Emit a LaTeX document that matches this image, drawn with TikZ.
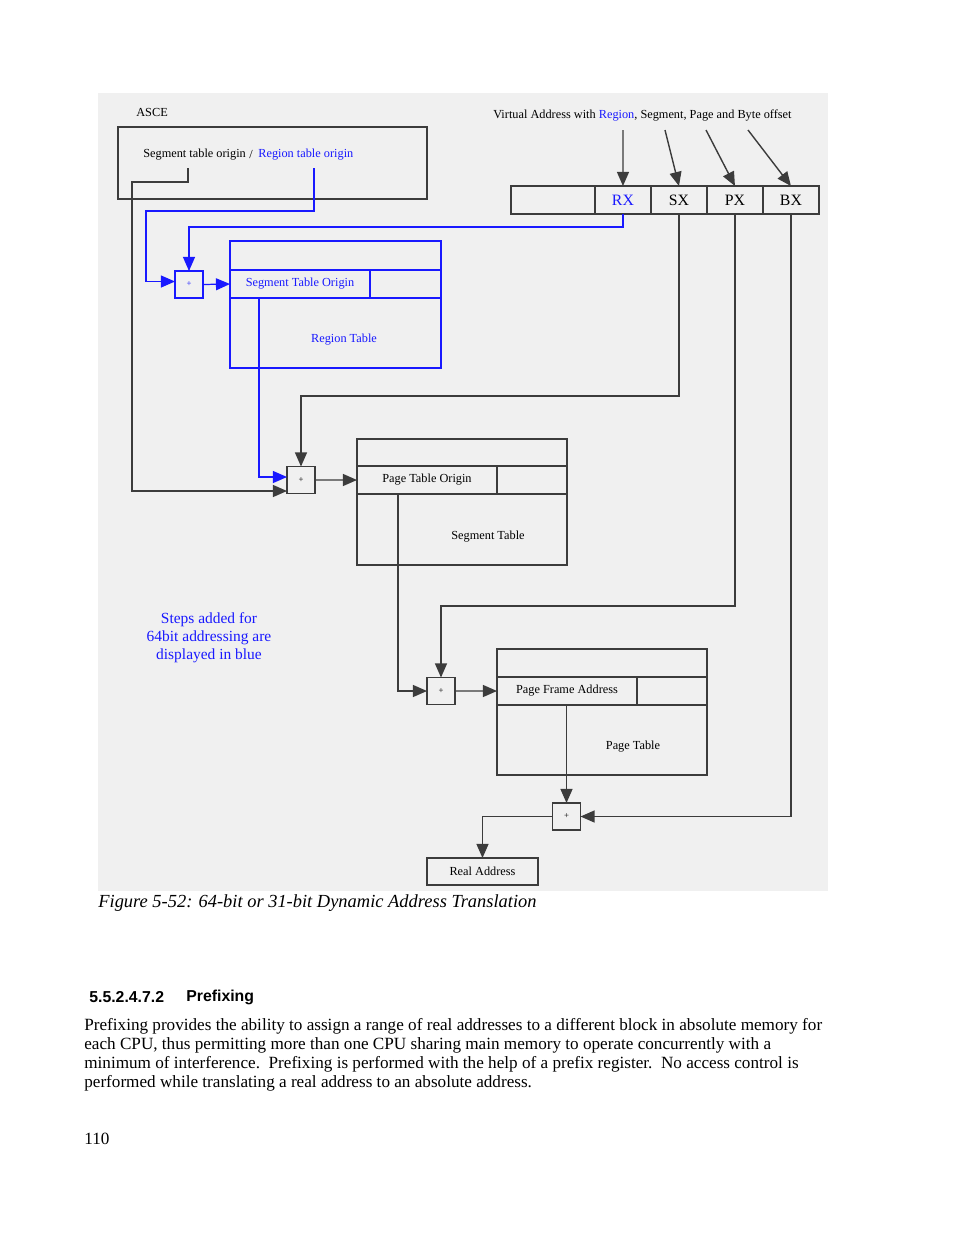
\documentclass[tikz,border=0pt]{standalone}
\usepackage{fontspec}
\setmainfont{Liberation Serif}
\setsansfont{Liberation Sans}
\usetikzlibrary{arrows.meta,positioning}

\definecolor{pagegray}{RGB}{240,240,240}
\definecolor{dkline}{RGB}{60,60,60}
\definecolor{stepblue}{RGB}{25,25,255}

\newcommand{\smallfont}{\fontsize{7}{8}\selectfont}
\newcommand{\bodyfont}{\fontsize{9.76}{11}\selectfont}

\tikzset{
  ln/.style={draw=dkline, line width=0.8pt},
  bln/.style={draw=stepblue, line width=0.7pt},
  tip/.style={-{Triangle[length=8pt,width=6.8pt]}},
  boxline/.style={draw=dkline, line width=0.8pt, inner sep=0pt, outer sep=0pt},
  field/.style={boxline, minimum height=0.56cm, font=\smallfont},
  regfield/.style={field, minimum width=1.12cm, font=\fontsize{9}{10}\selectfont},
  plusbox/.style={boxline, minimum width=0.56cm, minimum height=0.54cm, font=\fontsize{5}{5}\selectfont},
  tablebox/.style={boxline, anchor=north west, minimum width=4.2cm, minimum height=2.52cm},
  bluebox/.style={draw=stepblue, text=stepblue, line width=0.7pt},
  lbl/.style={font=\smallfont, inner sep=0pt},
  bodyline/.style={anchor=west, inner sep=0pt, font=\bodyfont},
}

\begin{document}
\begin{tikzpicture}[x=0.02cm, y=-0.02cm]
  \useasboundingbox (0,0) rectangle (954,1235);
  \fill[white] (0,0) rectangle (954,1235);
  \fill[pagegray] (98,93) rectangle (828,891);

  % ASCE
  \node[lbl, anchor=west] (asce) at (136,112) {ASCE};
  \node[boxline, anchor=north west, minimum width=6.18cm, minimum height=1.44cm] (ascebox) at (118,127) {};
  \node[lbl, anchor=west] (sto) at (143,154.5) {Segment table origin};
  \node[lbl, anchor=west] (slash) at (249,154.5) {/};
  \node[lbl, anchor=west, text=stepblue] (rto) at (258,154.5) {Region table origin};
  \coordinate (stoout) at (188,168);
  \coordinate (rtoout) at (314,168);

  % virtual address register
  \node[lbl, anchor=west] (valbl) at (493,115.5) {Virtual Address with \textcolor{stepblue}{Region}, Segment, Page and Byte offset};
  \node[field, anchor=north west, minimum width=1.68cm] (va0) at (511,186) {};
  \node[regfield, right=0pt of va0, text=stepblue] (rx) {RX};
  \node[regfield, right=0pt of rx] (sx) {SX};
  \node[regfield, right=0pt of sx] (px) {PX};
  \node[regfield, right=0pt of px] (bx) {BX};

  % adders
  \node[plusbox, bluebox] (p1) at (189,284.5) {+};
  \node[plusbox] (p2) at (301,480) {+};
  \node[plusbox] (p3) at (441,691) {+};
  \node[plusbox] (p4) at (566.5,816.5) {+};

  % region table
  \node[tablebox, bluebox, minimum width=4.22cm, minimum height=2.54cm] (rt) at (230,241) {};
  \node[field, bluebox, anchor=north west, minimum width=2.8cm] (rte) at (230,270) {Segment Table Origin};
  \node[field, bluebox, right=0pt of rte, minimum width=1.42cm] (rtf) {};
  \node[lbl, text=stepblue] (rtl) at (344,339.5) {Region Table};

  % segment table
  \node[tablebox] (st) at (357,439) {};
  \node[field, anchor=north west, minimum width=2.8cm] (ste) at (357,466) {Page Table Origin};
  \node[field, right=0pt of ste, minimum width=1.4cm] (stf) {};
  \node[lbl] (stl) at (488,536.5) {Segment Table};

  % page table
  \node[tablebox] (pt) at (497,649) {};
  \node[field, anchor=north west, minimum width=2.8cm] (pte) at (497,677) {Page Frame Address};
  \node[field, right=0pt of pte, minimum width=1.4cm] (ptf) {};
  \node[lbl] (ptl) at (633,746.5) {Page Table};

  % result
  \node[field, anchor=north west, minimum width=2.22cm, minimum height=0.54cm] (ra) at (427,858) {Real Address};

  \node[align=center, text=stepblue, font=\fontsize{8.8}{10.2}\selectfont] (note) at (209,638) {Steps added for\\64bit addressing are\\displayed in blue};

  % index arrows into the register
  \foreach \sx/\f in {623/rx,665/sx,706/px,748/bx}
  {
    \coordinate (from\f) at (\sx,130);
    \draw[ln,tip] (from\f) -- (\f.north);
  }

  % blue (64bit) paths
  \draw[bln,tip] (rtoout) |- (146,211) |- ([yshift=0.06cm]p1.west);
  \draw[bln,tip] (rx.south) -- ++(0,13) -| (p1.north);
  \draw[bln,tip] (p1.east) -- (rte.west);
  \draw[bln,tip] ([xshift=0.58cm]rte.south west) |- ([yshift=0.06cm]p2.west);

  % black paths
  \draw[ln,tip] (stoout) |- (132,182) |- ([yshift=-0.22cm]p2.west);
  \draw[ln,tip] (sx.south) -- ++(0,182) -| (p2.north);
  \draw[ln,tip] (p2.east) -- (ste.west);
  \draw[ln,tip] ([xshift=0.82cm]ste.south west) |- (p3.west);
  \draw[ln,tip] (px.south) -- ++(0,392) -| (p3.north);
  \draw[ln,tip] (p3.east) -- (pte.west);
  \draw[ln,tip] (p4.north |- pte.south) -- (p4.north);
  \draw[ln,tip] (bx.south) |- (p4.east);
  \draw[ln,tip] (p4.west) -| (ra.north);

  % page text
  \node[anchor=west, inner sep=0pt, font=\fontsize{10.5}{12}\selectfont\itshape] (cap) at (98,903) {Figure 5-52: 64-bit or 31-bit Dynamic Address Translation};
  \node[anchor=west, inner sep=0pt, font=\sffamily\bfseries\fontsize{9}{11}\selectfont] (secnum) at (89,997) {5.5.2.4.7.2};
  \node[anchor=west, inner sep=0pt, font=\sffamily\bfseries\fontsize{9}{11}\selectfont] (sectitle) at (186,997) {Prefixing};
  \node[bodyline] (body1) at (84,1026) {Prefixing provides the ability to assign a range of real addresses to a different block in absolute memory for};
  \node[bodyline] (body2) at (84,1045) {each CPU, thus permitting more than one CPU sharing main memory to operate concurrently with a};
  \node[bodyline] (body3) at (84,1064) {minimum of interference.\ \ Prefixing is performed with the help of a prefix register.\ \ No access control is};
  \node[bodyline] (body4) at (84,1083) {performed while translating a real address to an absolute address.};
  \node[bodyline] (pagenum) at (84,1139) {110};
\end{tikzpicture}
\end{document}
